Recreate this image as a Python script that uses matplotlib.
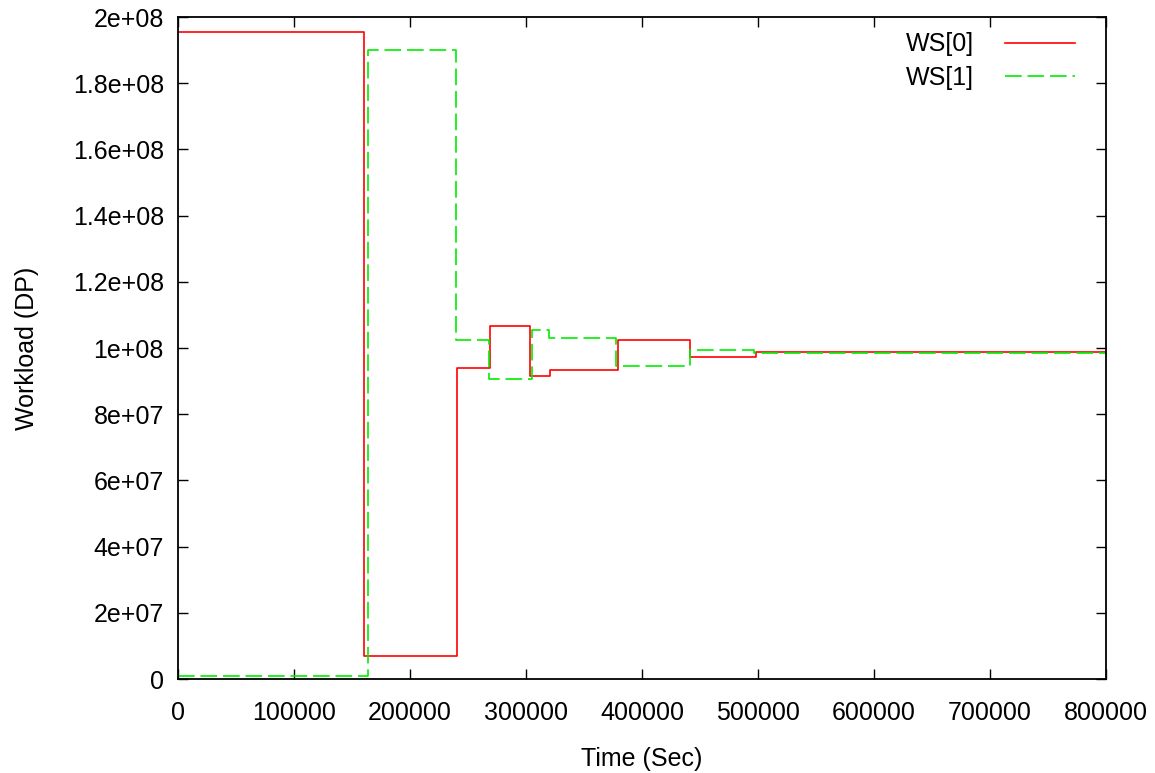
import matplotlib
matplotlib.use("Agg")
import matplotlib.pyplot as plt
from matplotlib.ticker import FuncFormatter

# step data (time in sec, workload in DP)
ws0_time = [0, 160000, 241000, 269000, 303500, 320500, 379000, 441500, 498500, 800000]
ws0_load = [1.955e8, 7.0e6, 9.4e7, 1.067e8, 9.16e7, 9.33e7, 1.024e8, 9.72e7, 9.87e7, 9.87e7]

ws1_time = [0, 164000, 240000, 268000, 305000, 320000, 377500, 441500, 496500, 800000]
ws1_load = [1.0e6, 1.9e8, 1.024e8, 9.05e7, 1.054e8, 1.031e8, 9.47e7, 9.94e7, 9.84e7, 9.84e7]

x_ticks = list(range(0, 800001, 100000))
y_ticks = [i * 2e7 for i in range(11)]

plt.rcParams['font.family'] = ['Liberation Sans', 'DejaVu Sans']
plt.rcParams['font.size'] = 18

fig = plt.figure(figsize=(11.55, 7.73), dpi=100)
ax = fig.add_axes([0.154, 0.1216, 0.8036, 0.8564])

ax.step(ws0_time, ws0_load, where='post', color='#ff0000', lw=1.2, label='WS[0]')
ax.step(ws1_time, ws1_load, where='post', color='#00ee00', lw=1.2,
        dashes=(10, 3.5), label='WS[1]')

ax.set_xlim(0, 800000)
ax.set_ylim(0, 2e8)
ax.set_xticks(x_ticks)
ax.set_yticks(y_ticks)
ax.xaxis.set_major_formatter(FuncFormatter(lambda v, p: "%d" % v))
ax.yaxis.set_major_formatter(FuncFormatter(lambda v, p: "%g" % v))
ax.tick_params(direction='in', length=7, width=1, top=True, right=True)
ax.tick_params(axis='x', pad=16)
ax.tick_params(axis='y', pad=10)
for s in ax.spines.values():
    s.set_linewidth(1.3)

ax.set_xlabel("Time (Sec)")
ax.set_ylabel("Workload (DP)")
ax.xaxis.set_label_coords(0.5, -0.103)
ax.yaxis.set_label_coords(-0.15, 0.5)

ax.legend(loc='upper right', bbox_to_anchor=(1.0, 1.024), frameon=False,
          markerfirst=False, handlelength=2.8, borderaxespad=0.85,
          labelspacing=0.38, handletextpad=1.25)

fig.savefig("out.png", dpi=100)
